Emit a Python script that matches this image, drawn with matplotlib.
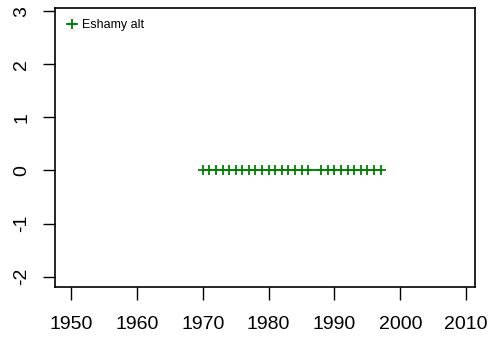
import matplotlib
matplotlib.use('Agg')
import matplotlib.pyplot as plt

# 数据
years = [1970, 1971, 1972, 1973, 1974, 1975, 1976, 1977, 1978, 1979,
         1980, 1981, 1982, 1983, 1984, 1985, 1986,
         1988, 1989, 1990, 1991, 1992, 1993, 1994, 1995, 1996, 1997]
values = [0] * len(years)
series_name = 'Eshamy alt'
x_ticks = [1950, 1960, 1970, 1980, 1990, 2000, 2010]
y_ticks = [-2, -1, 0, 1, 2, 3]

plt.rcParams['font.family'] = ['Liberation Sans', 'DejaVu Sans']
plt.rcParams['axes.unicode_minus'] = False  # R 风格的连字符负号

fig = plt.figure(figsize=(5.01, 3.39), dpi=100)
ax = fig.add_axes([0.1104, 0.1525, 0.8371, 0.8239])

ax.plot(years, values, color='#008000', linewidth=1.3, marker='+',
        markersize=7, markeredgewidth=1.3, label=series_name)

ax.set_xlim(1947.6, 2011.3)
ax.set_ylim(-2.2, 3.06)
ax.set_xticks(x_ticks)
ax.set_yticks(y_ticks)
ax.tick_params(axis='both', length=9, width=1, labelsize=14)
ax.tick_params(axis='x', pad=12)
ax.tick_params(axis='y', pad=9)
for lab in ax.get_yticklabels():
    lab.set_rotation(90)
    lab.set_va('center')
for s in ax.spines.values():
    s.set_linewidth(1.2)

ax.legend(loc='upper left', frameon=False, fontsize=9, handlelength=0.8,
          handletextpad=0.4, borderaxespad=0.5, borderpad=0.4)

fig.savefig('out.png', dpi=100)
